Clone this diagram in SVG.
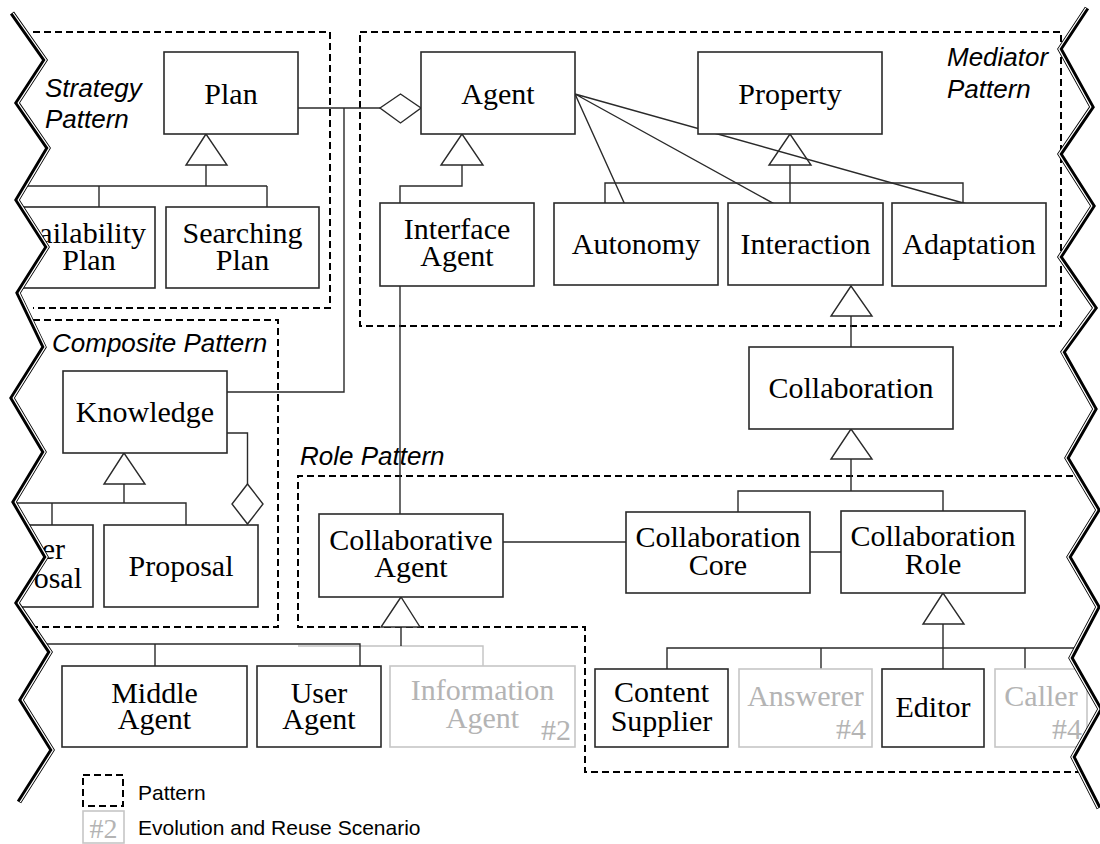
<svg xmlns="http://www.w3.org/2000/svg" width="1100" height="844" viewBox="0 0 1100 844">
  <style>
    .box { fill: #fff; stroke: #2a2a2a; stroke-width: 1.6; }
    .ghost { fill: #fff; stroke: #c6c6c6; stroke-width: 1.6; }
    .lbl { font-family: "Liberation Serif", "Times New Roman", serif; font-size: 30px; fill: #000; text-anchor: middle; }
    .glbl { font-family: "Liberation Serif", "Times New Roman", serif; font-size: 30px; fill: #b4b4b4; text-anchor: middle; }
    .end { text-anchor: end; }
    .mid { text-anchor: middle; }
    .pat { font-family: "Liberation Sans", Arial, sans-serif; font-style: italic; font-size: 26px; fill: #000; }
    .leg { font-family: "Liberation Sans", Arial, sans-serif; font-size: 21px; fill: #000; }
    .ln { fill: none; stroke: #2a2a2a; stroke-width: 1.4; }
    .gln { fill: none; stroke: #c2c2c2; stroke-width: 1.4; }
    .head { fill: #fff; stroke: #2a2a2a; stroke-width: 1.4; }
    .frame { fill: none; stroke: #000; stroke-width: 2; stroke-dasharray: 7 4; }
    .cut { fill: #fff; stroke: none; }
    .zz { fill: none; stroke: #000; stroke-width: 5; stroke-linejoin: miter; stroke-miterlimit: 10; }
    .zzw { fill: none; stroke: #fff; stroke-width: 1.3; stroke-linejoin: miter; stroke-miterlimit: 10; }
  </style>

  <!-- pattern frames -->
  <g id="frames">
    <path class="frame" d="M33,32 H330 V308 H33"/>
    <path class="frame" d="M360,32 H1061 V326 H360 Z"/>
    <path class="frame" d="M33,320 H278 V627 H33"/>
    <path class="frame" d="M1095,476 H298 V627 H585 V772 H1095"/>
    <text class="pat" x="45" y="97">Strategy<tspan x="45" dy="31">Pattern</tspan></text>
    <text class="pat" x="947" y="66">Mediator<tspan x="947" dy="32">Pattern</tspan></text>
    <text class="pat" x="52" y="352">Composite Pattern</text>
    <text class="pat" x="300" y="465">Role Pattern</text>
  </g>

  <!-- connectors -->
  <g id="connectors">
    <!-- Plan aggregated by Agent -->
    <path class="ln" d="M298,108 H380"/>
    <polygon class="head" points="380,108 400.5,94 421,108 400.5,123"/>
    <path class="ln" d="M227,392 H344 V108"/>
    <!-- Plan specialisations -->
    <path class="ln" d="M206,165 V186 M0,186 H267 M99,186 V207 M267,186 V207"/>
    <polygon class="head" points="206,134 186,165 227,165"/>
    <!-- Agent specialisation -->
    <path class="ln" d="M462,165 V186 H400 V203"/>
    <polygon class="head" points="462,134 441,165 483,165"/>
    <!-- Property specialisations -->
    <path class="ln" d="M790,165 V203 M605,203 V183 H963 V203"/>
    <polygon class="head" points="790,134 769,165 811,165"/>
    <!-- Agent associations to properties -->
    <path class="ln" d="M575,94 L626,207 M575,94 L780,207 M575,94 L974,206"/>
    <!-- Collaboration specialises Interaction -->
    <path class="ln" d="M851,316 V347"/>
    <polygon class="head" points="851,286 831,316 872,316"/>
    <!-- Interface Agent to Collaborative Agent -->
    <path class="ln" d="M400,286 V514"/>
    <!-- Core and Role specialise Collaboration -->
    <path class="ln" d="M851,459 V491 M738,512 V491 H943 V511"/>
    <polygon class="head" points="851,429 831,459 872,459"/>
    <path class="ln" d="M503,542 H626 M810,552 H841"/>
    <!-- Collaborative Agent specialisations -->
    <path class="gln" d="M298,646 H483 V666"/>
    <path class="ln" d="M401,627 V646 M0,644 H360 V666 M155,644 V666"/>
    <polygon class="head" points="401,597 381,627 420,627"/>
    <!-- Collaboration Role specialisations -->
    <path class="ln" d="M943,624 V669 M667,669 V648 H1100 M821,648 V669 M1025,648 V669"/>
    <polygon class="head" points="943,593 923,624 964,624"/>
    <!-- Knowledge specialisations and composite -->
    <path class="ln" d="M124,484 V503 M0,503 H186 V525 M52,503 V525"/>
    <polygon class="head" points="124,453 104,484 145,484"/>
    <path class="ln" d="M227,433 H247.5 V484"/>
    <polygon class="head" points="247.5,484 263,504 247.5,524 232,504"/>
  </g>

  <!-- nodes -->
  <g id="plan"><rect class="box" x="164" y="52" width="134" height="82"/><text class="lbl" x="231" y="104">Plan</text></g>
  <g id="availability-plan"><rect class="box" x="-30" y="207" width="185" height="81"/><text class="lbl end" x="146" y="243">ailability<tspan class="mid" x="89" dy="27">Plan</tspan></text></g>
  <g id="searching-plan"><rect class="box" x="166" y="207" width="153" height="81"/><text class="lbl" x="242.5" y="243">Searching<tspan x="242.5" dy="27">Plan</tspan></text></g>
  <g id="agent"><rect class="box" x="421" y="52" width="154" height="82"/><text class="lbl" x="498" y="104">Agent</text></g>
  <g id="property"><rect class="box" x="698" y="52" width="184" height="82"/><text class="lbl" x="790" y="104">Property</text></g>
  <g id="interface-agent"><rect class="box" x="380" y="203" width="154" height="83"/><text class="lbl" x="457" y="239">Interface<tspan x="457" dy="27">Agent</tspan></text></g>
  <g id="autonomy"><rect class="box" x="554" y="203" width="164" height="82"/><text class="lbl" x="636" y="254">Autonomy</text></g>
  <g id="interaction"><rect class="box" x="728" y="203" width="155" height="82"/><text class="lbl" x="805.5" y="254">Interaction</text></g>
  <g id="adaptation"><rect class="box" x="892" y="203" width="154" height="83"/><text class="lbl" x="969" y="254">Adaptation</text></g>
  <g id="knowledge"><rect class="box" x="63" y="371" width="164" height="82"/><text class="lbl" x="145" y="422">Knowledge</text></g>
  <g id="other-proposal"><rect class="box" x="-40" y="525" width="133" height="82"/><text class="lbl end" x="65" y="559">er<tspan x="82" dy="29">osal</tspan></text></g>
  <g id="proposal"><rect class="box" x="104" y="525" width="154" height="82"/><text class="lbl" x="181" y="576">Proposal</text></g>
  <g id="collaboration"><rect class="box" x="749" y="347" width="204" height="82"/><text class="lbl" x="851" y="398">Collaboration</text></g>
  <g id="collaborative-agent"><rect class="box" x="319" y="514" width="184" height="83"/><text class="lbl" x="411" y="550">Collaborative<tspan x="411" dy="27">Agent</tspan></text></g>
  <g id="collaboration-core"><rect class="box" x="626" y="512" width="184" height="81"/><text class="lbl" x="718" y="547">Collaboration<tspan x="718" dy="28">Core</tspan></text></g>
  <g id="collaboration-role"><rect class="box" x="841" y="511" width="184" height="82"/><text class="lbl" x="933" y="546">Collaboration<tspan x="933" dy="28">Role</tspan></text></g>
  <g id="middle-agent"><rect class="box" x="62" y="666" width="185" height="81"/><text class="lbl" x="154.5" y="703">Middle<tspan x="154.5" dy="26">Agent</tspan></text></g>
  <g id="user-agent"><rect class="box" x="257" y="666" width="124" height="81"/><text class="lbl" x="319" y="703">User<tspan x="319" dy="26">Agent</tspan></text></g>
  <g id="information-agent"><rect class="ghost" x="390" y="666" width="185" height="81"/><text class="glbl" x="482.5" y="700">Information<tspan x="482.5" dy="28">Agent</tspan></text><text class="glbl end" x="571" y="740">#2</text></g>
  <g id="content-supplier"><rect class="box" x="595" y="669" width="133" height="78"/><text class="lbl" x="661.5" y="702">Content<tspan x="661.5" dy="29">Supplier</tspan></text></g>
  <g id="answerer"><rect class="ghost" x="739" y="669" width="133" height="78"/><text class="glbl" x="805.5" y="706">Answerer</text><text class="glbl end" x="866" y="739">#4</text></g>
  <g id="editor"><rect class="box" x="882" y="669" width="102" height="78"/><text class="lbl" x="933" y="717">Editor</text></g>
  <g id="caller"><rect class="ghost" x="995" y="669" width="92" height="78"/><text class="glbl" x="1041" y="706">Caller</text><text class="glbl end" x="1082" y="739">#4</text></g>

  <!-- torn edges on both sides -->
  <g id="torn-edges">
    <polygon class="cut" points="-10,13 12,13 45,60 17,103 48,148 17,200 47,247 18,293 44,347 12,398 44,452 14,502 46,557 17,603 50,652 21,700 52,750 19,802 -10,802"/>
    <polygon class="cut" points="1110,8 1087,8 1060,49 1092,107 1060,154 1093,206 1060,257 1095,308 1063,352 1095,409 1067,458 1098,510 1069,557 1098,607 1071,658 1100,709 1073,757 1099,808 1110,808"/>
    <polyline class="zz" points="12,13 45,60 17,103 48,148 17,200 47,247 18,293 44,347 12,398 44,452 14,502 46,557 17,603 50,652 21,700 52,750 19,802"/>
    <polyline class="zzw" transform="translate(1.2,0)" points="12,13 45,60 17,103 48,148 17,200 47,247 18,293 44,347 12,398 44,452 14,502 46,557 17,603 50,652 21,700 52,750 19,802"/>
    <polyline class="zz" points="1087,8 1060,49 1092,107 1060,154 1093,206 1060,257 1095,308 1063,352 1095,409 1067,458 1098,510 1069,557 1098,607 1071,658 1100,709 1073,757 1099,808"/>
    <polyline class="zzw" transform="translate(-1.2,0)" points="1087,8 1060,49 1092,107 1060,154 1093,206 1060,257 1095,308 1063,352 1095,409 1067,458 1098,510 1069,557 1098,607 1071,658 1100,709 1073,757 1099,808"/>
  </g>

  <!-- legend -->
  <g id="legend">
    <rect class="frame" x="83" y="775" width="40" height="31"/>
    <text class="leg" x="138" y="800">Pattern</text>
    <rect class="ghost" x="83" y="811" width="41" height="32"/>
    <text class="glbl" x="103.5" y="838" style="font-size:28px">#2</text>
    <text class="leg" x="138" y="835">Evolution and Reuse Scenario</text>
  </g>
</svg>
